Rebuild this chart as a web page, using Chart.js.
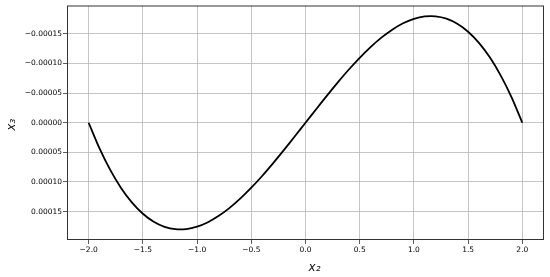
<!DOCTYPE html>
<html>
<head>
<meta charset="utf-8">
<script src="https://cdn.jsdelivr.net/npm/chart.js@4"></script>
<style>
  html, body { margin: 0; padding: 0; background: #fff; }
  #wrap { width: 550px; height: 277px; }
</style>
</head>
<body>
<div id="wrap"><canvas id="chart"></canvas></div>
<script>
// x2 values along the curve
const x2Values = [
  -2.0, -1.9, -1.8, -1.7, -1.6, -1.5, -1.4, -1.3, -1.2, -1.1, -1.0,
  -0.9, -0.8, -0.7, -0.6, -0.5, -0.4, -0.3, -0.2, -0.1, 0.0,
  0.1, 0.2, 0.3, 0.4, 0.5, 0.6, 0.7, 0.8, 0.9, 1.0,
  1.1, 1.2, 1.3, 1.4, 1.5, 1.6, 1.7, 1.8, 1.9, 2.0
];
// x3 values
const x3Values = [
  0, 4.33e-5, 8.00e-5, 11.04e-5, 13.48e-5, 15.36e-5, 16.71e-5, 17.57e-5, 17.97e-5, 17.95e-5, 17.55e-5,
  16.80e-5, 15.72e-5, 14.37e-5, 12.78e-5, 10.97e-5, 8.99e-5, 6.86e-5, 4.63e-5, 2.33e-5, 0,
  -2.33e-5, -4.63e-5, -6.86e-5, -8.99e-5, -10.97e-5, -12.78e-5, -14.37e-5, -15.72e-5, -16.80e-5, -17.55e-5,
  -17.95e-5, -17.97e-5, -17.57e-5, -16.71e-5, -15.36e-5, -13.48e-5, -11.04e-5, -8.00e-5, -4.33e-5, 0
];
const xTicks = [-2.0, -1.5, -1.0, -0.5, 0.0, 0.5, 1.0, 1.5, 2.0];
const yTicks = [-0.00015, -0.00010, -0.00005, 0.0, 0.00005, 0.00010, 0.00015];
const xTitle = 'x\u2082';
const yTitle = 'x\u2083';

const MINUS = '\u2212';
const fmt = (v, d) => (v < -1e-12 ? MINUS : '') + Math.abs(v).toFixed(d);

// frame round the plot area (all four spines) and the axis titles
const frame = {
  id: 'frame',
  afterDraw(chart) {
    const a = chart.chartArea;
    const ctx = chart.ctx;
    ctx.save();
    ctx.strokeStyle = '#333';
    ctx.lineWidth = 1;
    ctx.strokeRect(a.left + 0.5, a.top + 0.5, a.right - a.left - 1, a.bottom - a.top - 1);

    ctx.fillStyle = '#111';
    ctx.font = 'italic 12px "DejaVu Sans"';
    ctx.textAlign = 'center';
    ctx.textBaseline = 'middle';
    ctx.fillText(xTitle, (a.left + a.right) / 2 + 9, 268);
    ctx.translate(12, (a.top + a.bottom) / 2 + 2);
    ctx.rotate(-Math.PI / 2);
    ctx.fillText(yTitle, 0, 0);
    ctx.restore();
  }
};

const tickFont = { family: 'DejaVu Sans', size: 7.5 };

new Chart(document.getElementById('chart'), {
  type: 'line',
  data: {
    datasets: [{
      data: x2Values.map((x, i) => ({ x: x, y: x3Values[i] })),
      borderColor: '#000',
      borderWidth: 1.8,
      pointRadius: 0,
      fill: false,
      tension: 0.3
    }]
  },
  options: {
    responsive: true,
    maintainAspectRatio: false,
    animation: false,
    layout: { padding: { top: 4, right: 6, left: 0, bottom: 0 } },
    plugins: { legend: { display: false }, tooltip: { enabled: false } },
    scales: {
      x: {
        type: 'linear',
        min: -2.2,
        max: 2.2,
        afterFit(scale) { scale.height = 37; },
        afterBuildTicks(scale) { scale.ticks = xTicks.map(v => ({ value: v })); },
        ticks: {
          font: tickFont,
          color: '#000',
          padding: 2,
          maxRotation: 0,
          callback: v => fmt(v, 1)
        },
        grid: { color: '#b8b8b8', lineWidth: 0.8, tickLength: 4, tickColor: '#333' },
        border: { display: false }
      },
      y: {
        type: 'linear',
        reverse: true,
        min: -0.000198,
        max: 0.000198,
        afterFit(scale) { scale.width = 67; },
        afterBuildTicks(scale) { scale.ticks = yTicks.map(v => ({ value: v })); },
        ticks: {
          font: tickFont,
          color: '#000',
          padding: 1,
          callback: v => fmt(v, 5)
        },
        grid: { color: '#b8b8b8', lineWidth: 0.8, tickLength: 4, tickColor: '#333' },
        border: { display: false }
      }
    }
  },
  plugins: [frame]
});
</script>
</body>
</html>
